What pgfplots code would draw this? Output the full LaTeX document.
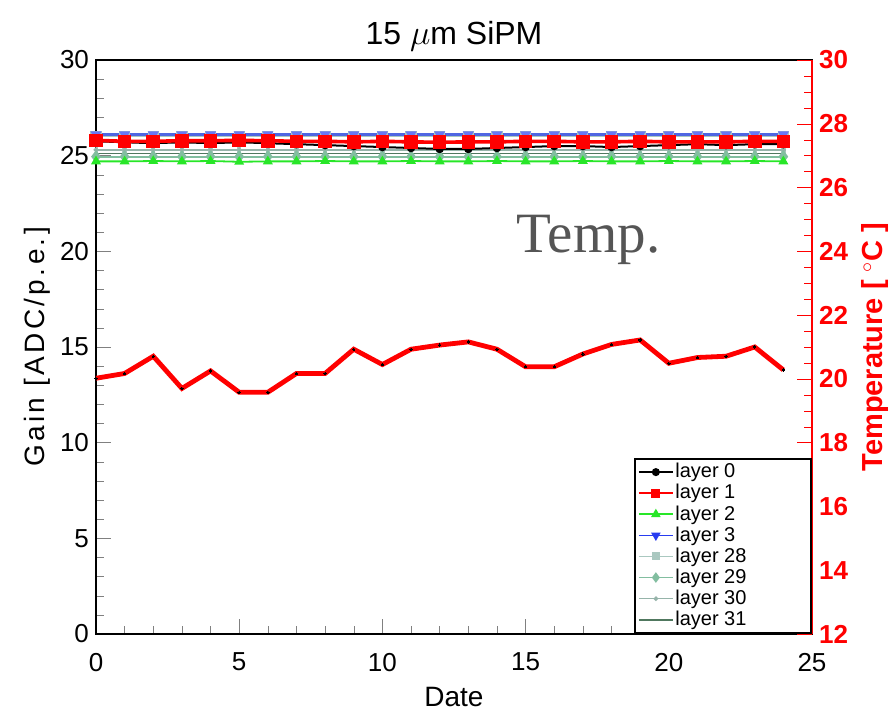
\documentclass[border=0pt]{standalone}
\usepackage{pgfplots}
\pgfplotsset{compat=1.18}
\usepackage{pgfplotstable}
\usepackage{fontspec}
\setmainfont{Liberation Sans}
\newfontfamily\tempfont{Liberation Serif}

\definecolor{lgreen}{RGB}{40,230,40}
\definecolor{lblue}{RGB}{40,60,240}
\definecolor{c28}{RGB}{170,200,192}
\definecolor{c29}{RGB}{130,190,160}
\definecolor{c30}{RGB}{150,180,170}
\definecolor{c31}{RGB}{80,120,95}
\definecolor{tgray}{RGB}{85,85,85}

% gain per layer [ADC/p.e.] and temperature [deg C] per day
\pgfplotstableread{
x  l0    l1    l2    l3    l28   e28  l29   l30   l31   temp
0  25.75 25.80 24.70 26.10 26.02 1.30 24.95 25.30 25.12 20.02
1  25.70 25.75 24.70 26.10 26.02 1.30 24.95 25.30 25.12 20.17
2  25.65 25.75 24.72 26.10 26.02 1.30 24.95 25.30 25.12 20.71
3  25.70 25.78 24.70 26.10 26.02 1.30 24.95 25.30 25.12 19.70
4  25.65 25.78 24.72 26.10 26.02 1.30 24.95 25.30 25.12 20.25
5  25.70 25.80 24.68 26.10 26.02 1.30 24.95 25.30 25.12 19.58
6  25.65 25.78 24.70 26.10 26.02 1.30 24.95 25.30 25.12 19.58
7  25.60 25.75 24.70 26.10 26.02 1.30 24.95 25.30 25.12 20.17
8  25.55 25.75 24.72 26.10 26.02 1.30 24.95 25.30 25.12 20.17
9  25.50 25.72 24.70 26.10 26.02 1.30 24.95 25.30 25.12 20.93
10 25.45 25.75 24.70 26.10 26.02 1.30 24.95 25.30 25.12 20.45
11 25.40 25.72 24.72 26.10 26.02 1.30 24.95 25.30 25.12 20.93
12 25.35 25.70 24.70 26.10 26.02 1.30 24.95 25.30 25.12 21.06
13 25.35 25.72 24.70 26.10 26.02 1.30 24.95 25.30 25.12 21.16
14 25.40 25.72 24.72 26.10 26.02 1.30 24.95 25.30 25.12 20.93
15 25.45 25.75 24.70 26.10 26.02 1.30 24.95 25.30 25.12 20.38
16 25.50 25.75 24.70 26.10 26.02 1.30 24.95 25.30 25.12 20.38
17 25.50 25.72 24.72 26.10 26.02 1.30 24.95 25.30 25.12 20.78
18 25.45 25.72 24.70 26.10 26.02 1.30 24.95 25.30 25.12 21.08
19 25.50 25.75 24.70 26.10 26.02 1.30 24.95 25.30 25.12 21.22
20 25.55 25.72 24.72 26.10 26.02 1.30 24.95 25.30 25.12 20.49
21 25.60 25.72 24.70 26.10 26.02 1.30 24.95 25.30 25.12 20.67
22 25.55 25.72 24.70 26.10 26.02 1.30 24.95 25.30 25.12 20.71
23 25.60 25.75 24.72 26.10 26.02 1.30 24.95 25.30 25.12 21.00
24 25.60 25.75 24.70 26.10 26.02 1.30 24.95 25.30 25.12 20.28
}\gain

\newcommand{\lpad}{\hspace*{30pt}}

\begin{document}
\begin{tikzpicture}
\pgfplotsset{
  every axis/.append style={
    scale only axis, width=358pt, height=287pt,
    xmin=0, xmax=25, tick align=inside,
    /pgf/number format/assume math mode=true,
    tick label style={font=\fontsize{13}{13}\selectfont},
    major tick length=7.5pt, minor tick length=4pt,
  },
}
\begin{axis}[
  ymin=0, ymax=30,
  xtick={0,5,...,25}, minor x tick num=4,
  ytick={0,5,...,30}, minor y tick num=4,
  xtick pos=lower, ytick pos=left,
  xticklabel style={yshift=-6pt},
  xlabel={Date}, ylabel={Gain [ADC/p.e.]},
  xlabel style={font=\fontsize{14}{14}\selectfont, yshift=-1pt},
  ylabel style={font=\fontsize{14}{14}\selectfont\addfontfeature{LetterSpace=12}, yshift=-2pt},
  title={15 $\mu$m SiPM},
  title style={font=\fontsize{16}{16}\selectfont, yshift=-5pt},
  axis line style={line width=0.9pt},
]
\addplot[c30, line width=0.8pt, mark=*, mark size=0.8pt] table[x=x, y=l30]{\gain};
\addplot[c31, line width=0.8pt] table[x=x, y=l31]{\gain};
\addplot[c29, line width=0.9pt, mark=diamond*, mark size=2.5pt] table[x=x, y=l29]{\gain};
\addplot[c28, line width=1.2pt, mark=square*, mark size=2.2pt,
  error bars/.cd, y dir=minus, y explicit,
  error bar style={c28, line width=2.2pt}, error mark=none]
  table[x=x, y=l28, y error=e28]{\gain};
\addplot[lgreen, line width=0.9pt, mark=triangle*, mark size=2pt] table[x=x, y=l2]{\gain};
\addplot[lblue!70!c28, line width=1.2pt, mark=triangle*, mark size=2pt, mark options={rotate=180, lblue!70}] table[x=x, y=l3]{\gain};
\addplot[black, line width=1pt, mark=*, mark size=1.6pt] table[x=x, y=l0]{\gain};
\addplot[red, line width=1.8pt, mark=square*, mark size=2.5pt] table[x=x, y=l1]{\gain};
\node[font=\tempfont\fontsize{28.5}{28.5}\selectfont, text=tgray] at (axis cs:17.2,20.6) {Temp.};
\coordinate (sw) at (rel axis cs:0,0);
\coordinate (ne) at (rel axis cs:1,1);
\end{axis}

\begin{axis}[
  ymin=12, ymax=30,
  axis x line=none, axis y line*=right,
  ytick={12,14,...,30}, minor y tick num=3,
  y axis line style={red, line width=0.9pt},
  every y tick/.style={red}, every minor y tick/.style={red},
  yticklabel style={red, font=\fontsize{13}{13}\selectfont\bfseries},
  ylabel={Temperature [ $^\circ$C ]},
  ylabel style={red, font=\fontsize{14.5}{14.5}\selectfont\bfseries},
  legend style={at={(1,0)}, anchor=south east, draw=black, line width=0.9pt,
    font=\fontsize{10}{10}\selectfont, row sep=0.2pt, inner sep=1.5pt,
    nodes={inner sep=0.8pt}},
  legend cell align=left,
]
\addlegendimage{black, line width=0.8pt, mark=*, mark size=1.6pt}
\addlegendentry{layer 0\lpad}
\addlegendimage{red, line width=0.8pt, mark=square*, mark size=1.8pt}
\addlegendentry{layer 1\lpad}
\addlegendimage{lgreen, line width=0.8pt, mark=triangle*, mark size=2pt}
\addlegendentry{layer 2\lpad}
\addlegendimage{lblue, line width=0.8pt, mark=triangle*, mark size=2pt, mark options={rotate=180}}
\addlegendentry{layer 3\lpad}
\addlegendimage{c28, line width=0.8pt, mark=square*, mark size=1.6pt}
\addlegendentry{layer 28\lpad}
\addlegendimage{c29, line width=0.8pt, mark=diamond*, mark size=2pt}
\addlegendentry{layer 29\lpad}
\addlegendimage{c30, line width=0.8pt, mark=*, mark size=0.7pt}
\addlegendentry{layer 30\lpad}
\addlegendimage{c31, line width=0.8pt}
\addlegendentry{layer 31\lpad}
\addplot[red, line width=2.4pt, mark=*, mark size=0.6pt, mark options={black, line width=0pt}, forget plot]
  table[x=x, y=temp]{\gain};
\end{axis}
\pgfresetboundingbox
\path[use as bounding box] ([xshift=-48pt, yshift=-41pt]sw) rectangle ([xshift=41pt, yshift=30pt]ne);
\end{tikzpicture}
\end{document}
